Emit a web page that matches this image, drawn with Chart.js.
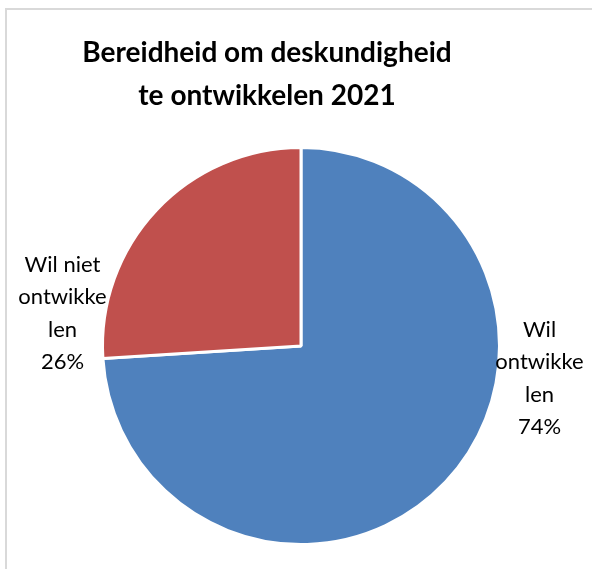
<!DOCTYPE html>
<html>
<head>
<meta charset="utf-8">
<script src="https://cdn.jsdelivr.net/npm/chart.js@4/dist/chart.umd.min.js"></script>
<style>
  html, body { margin: 0; padding: 0; background: #fff; overflow: hidden; }
  #frame {
    position: absolute; left: 5px; top: 8px; width: 700px; height: 700px;
    border: 2px solid #d9d9d9; box-sizing: border-box;
  }
  #wrap { position: absolute; left: 0; top: 0; width: 592px; height: 569px; }
</style>
</head>
<body>
<div id="frame"></div>
<div id="wrap"><canvas id="chart" width="592" height="569"></canvas></div>
<script>
// ---- data ----
const titleLines = ['Bereidheid om deskundigheid', 'te ontwikkelen 2021'];
const categories = ['Wil ontwikkelen', 'Wil niet ontwikkelen'];
const labelLines = [['Wil', 'ontwikke', 'len'], ['Wil niet', 'ontwikke', 'len']];
const shares = [74, 26];
const colors = ['#4F81BD', '#C0504D'];

const FONT = 'Lato, "Open Sans", sans-serif';

// title drawn by hand so it can sit a little left of the pie centre
const titlePlugin = {
  id: 'manualTitle',
  afterDraw(chart) {
    const ctx = chart.ctx;
    ctx.save();
    ctx.fillStyle = '#000';
    ctx.font = 'bold 28px ' + FONT;
    ctx.textAlign = 'center';
    ctx.textBaseline = 'middle';
    titleLines.forEach((t, i) => ctx.fillText(t, 267, 53 + i * 43));
    ctx.restore();
  }
};

// outside labels, positioned from each arc's geometry
const labelPlugin = {
  id: 'sliceLabels',
  afterDatasetsDraw(chart) {
    const ctx = chart.ctx;
    const meta = chart.getDatasetMeta(0);
    const total = shares.reduce((a, b) => a + b, 0);
    ctx.save();
    ctx.fillStyle = '#000';
    ctx.font = '22px ' + FONT;
    ctx.textAlign = 'center';
    ctx.textBaseline = 'middle';
    meta.data.forEach((arc, i) => {
      const p = arc.getProps(['x', 'y', 'startAngle', 'endAngle', 'outerRadius'], true);
      const mid = (p.startAngle + p.endAngle) / 2;
      const side = Math.cos(mid) >= 0 ? 1 : -1;
      const cx = p.x + side * (p.outerRadius + 40);
      const lines = labelLines[i].concat([Math.round(shares[i] / total * 100) + '%']);
      const cy = p.y + Math.sin(mid) * p.outerRadius * 0.24;
      const lh = 32.5;
      lines.forEach((t, k) => {
        ctx.fillText(t, cx, cy + (k - (lines.length - 1) / 2) * lh);
      });
    });
    ctx.restore();
  }
};

new Chart(document.getElementById('chart'), {
  type: 'pie',
  data: {
    labels: categories,
    datasets: [{
      data: shares,
      backgroundColor: colors,
      borderColor: '#ffffff',
      borderWidth: 3,
      hoverOffset: 0
    }]
  },
  options: {
    responsive: false,
    animation: false,
    layout: { padding: { left: 60, right: 50, top: 146, bottom: 23 } },
    plugins: {
      legend: { display: false },
      title: { display: false },
      tooltip: { enabled: false }
    }
  },
  plugins: [titlePlugin, labelPlugin]
});
</script>
</body>
</html>
